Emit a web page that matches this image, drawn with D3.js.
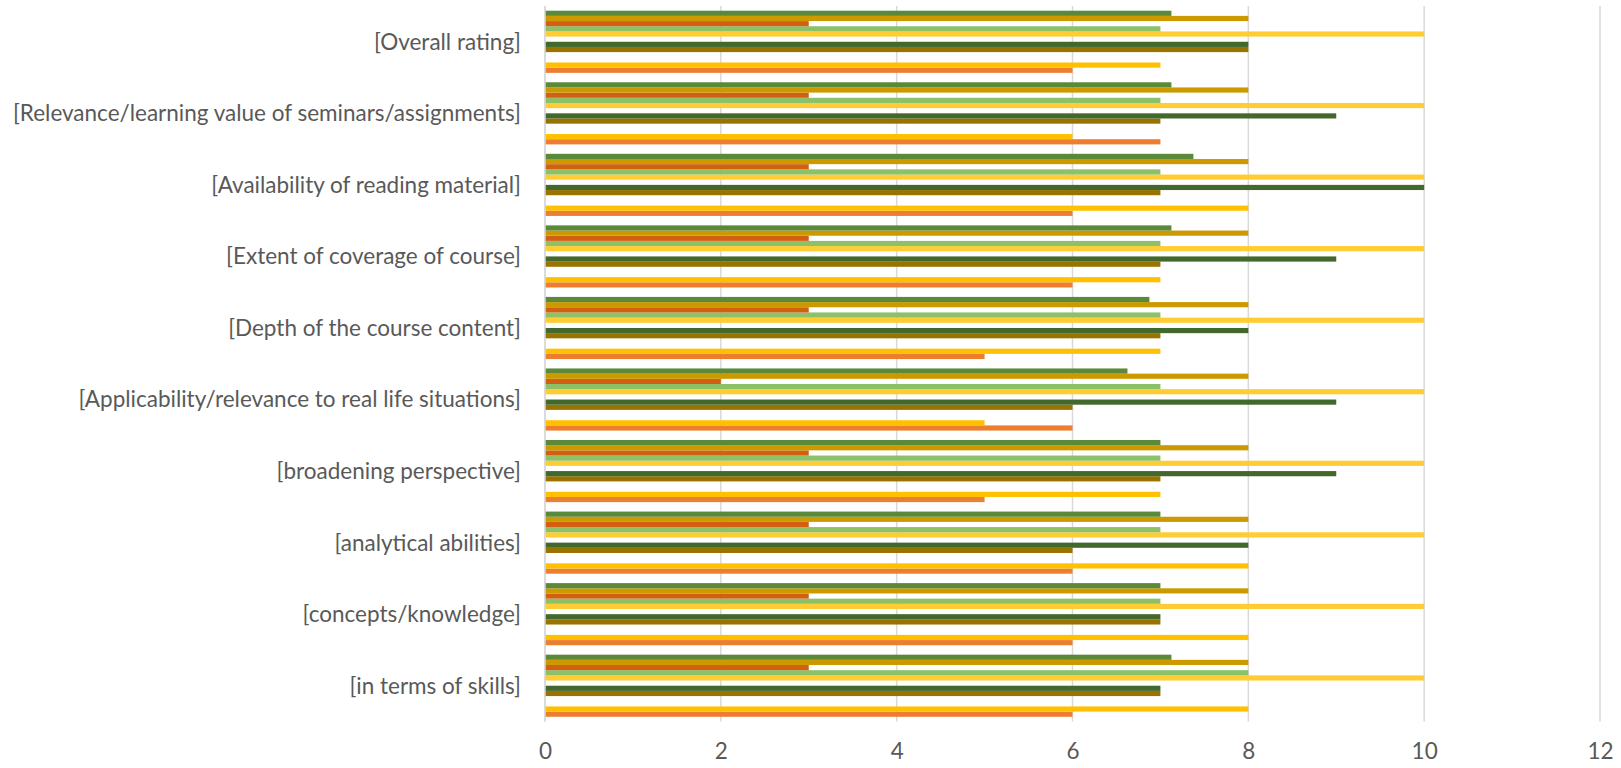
<!DOCTYPE html>
<html>
<head>
<meta charset="utf-8">
<script src="https://cdn.jsdelivr.net/npm/d3@7"></script>
<style>
  html, body { margin: 0; padding: 0; background: #ffffff; }
  svg { display: block; }
  text { font-family: Lato, "Open Sans", "Liberation Sans", sans-serif; fill: #595959; }
</style>
</head>
<body>
<svg id="chart" width="1621" height="768"></svg>
<script>
// Categories in data order (first = bottom of the chart)
const categories = [
  "[in terms of skills]",
  "[concepts/knowledge]",
  "[analytical abilities]",
  "[broadening perspective]",
  "[Applicability/relevance to real life situations]",
  "[Depth of the course content]",
  "[Extent of coverage of course]",
  "[Availability of reading material]",
  "[Relevance/learning value of seminars/assignments]",
  "[Overall rating]"
];

// Series values (same order as categories); null = no bar
const series1  = [6, 6, 6, 5, 6, 5, 6, 6, 7, 6];
const series2  = [8, 8, 8, 7, 5, 7, 7, 8, 6, 7];
const series3  = [null, null, null, null, null, null, null, null, null, null];
const series4  = [null, null, null, null, null, null, null, null, null, null];
const series5  = [7, 7, 6, 7, 6, 7, 7, 7, 7, 8];
const series6  = [7, 7, 8, 9, 9, 8, 9, 10, 9, 8];
const series7  = [null, null, null, null, null, null, null, null, null, null];
const series8  = [10, 10, 10, 10, 10, 10, 10, 10, 10, 10];
const series9  = [8, 7, 7, 7, 7, 7, 7, 7, 7, 7];
const series10 = [3, 3, 3, 3, 2, 3, 3, 3, 3, 3];
const series11 = [8, 8, 8, 8, 8, 8, 8, 8, 8, 8];
const series12 = [7.125, 7, 7, 7, 6.625, 6.875, 7.125, 7.375, 7.125, 7.125];

const seriesNames = ["s1","s2","s3","s4","s5","s6","s7","s8","s9","s10","s11","s12"];
const seriesColors = ["#ED7D31","#FFC000","#70AD47","#9E480E","#997300","#43682B",
                      "#F1975A","#FFCD33","#8CC168","#D26012","#CC9A00","#5A8A39"];
const seriesValues = [series1, series2, series3, series4, series5, series6,
                      series7, series8, series9, series10, series11, series12];

const xTicks = [0, 2, 4, 6, 8, 10, 12];

const svg = d3.select("#chart");
const plot = { left: 545, right: 1600, top: 6, bottom: 721.5 };

const x = d3.scaleLinear().domain([0, 12]).range([plot.left, plot.right]);

const gap = 1.82;
const pInner = gap / (12 + gap);
const y = d3.scaleBand()
  .domain(categories.slice().reverse())
  .range([plot.top, plot.bottom])
  .paddingInner(pInner)
  .paddingOuter(pInner / 2);

const ySub = d3.scaleBand()
  .domain(seriesNames.slice().reverse())
  .range([0, y.bandwidth()])
  .padding(0);

// gridlines
svg.append("g")
  .selectAll("line")
  .data(xTicks)
  .join("line")
  .attr("x1", d => x(d)).attr("x2", d => x(d))
  .attr("y1", plot.top).attr("y2", plot.bottom)
  .attr("stroke", "#D9D9D9")
  .attr("stroke-width", 1.5);

// bars
const groups = svg.append("g")
  .selectAll("g")
  .data(categories)
  .join("g")
  .attr("transform", c => `translate(0,${y(c)})`);

groups.selectAll("rect")
  .data((c, ci) => seriesNames.map((s, si) => ({ s, v: seriesValues[si][ci], color: seriesColors[si] }))
    .filter(d => d.v !== null))
  .join("rect")
  .attr("x", x(0))
  .attr("y", d => ySub(d.s))
  .attr("width", d => x(d.v) - x(0))
  .attr("height", ySub.bandwidth())
  .attr("fill", d => d.color);

// x axis labels
const xAxis = d3.axisBottom(x).tickValues(xTicks).tickSize(0).tickPadding(0);
const xg = svg.append("g").attr("transform", `translate(0,${plot.bottom})`).call(xAxis);
xg.select(".domain").remove();
xg.selectAll("text")
  .attr("y", 29.5)
  .attr("dy", "0.35em")
  .style("font-size", "22.5px")
  .style("fill", "#595959")
  .style("font-family", "Lato, 'Open Sans', sans-serif");

// y axis labels
const yAxis = d3.axisLeft(y).tickSize(0).tickPadding(0);
const yg = svg.append("g").attr("transform", `translate(521,0)`).call(yAxis);
yg.select(".domain").remove();
yg.selectAll("text")
  .attr("x", 0)
  .attr("dy", "0.35em")
  .style("font-size", "22.5px")
  .style("fill", "#595959")
  .style("font-family", "Lato, 'Open Sans', sans-serif");

// axis line at 0 on top
svg.append("line")
  .attr("x1", x(0)).attr("x2", x(0))
  .attr("y1", plot.top).attr("y2", plot.bottom)
  .attr("stroke", "#D9D9D9").attr("stroke-width", 1.5);
</script>
</body>
</html>
